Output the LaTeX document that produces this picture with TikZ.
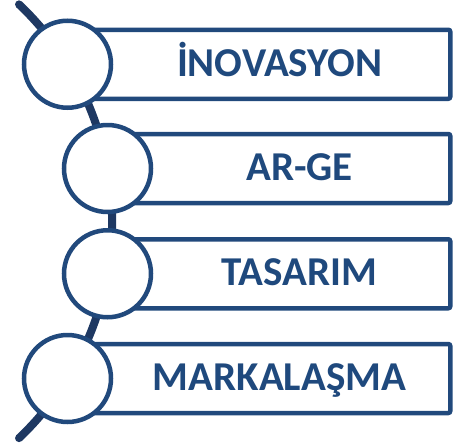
\documentclass[tikz,border=0pt]{standalone}
\usepackage{fontspec}
\setmainfont{Carlito}
\definecolor{boxblue}{RGB}{33,73,124}
\definecolor{spinecol}{RGB}{30,56,98}
\definecolor{txtcol}{RGB}{31,73,125}
\begin{document}
\begin{tikzpicture}[x=1pt,y=-1pt,
  stepbox/.style={draw=boxblue, line width=4.5pt, fill=white, rounded corners=2pt,
    anchor=west, minimum height=69pt, inner sep=0pt},
  ring/.style={circle, draw=boxblue, line width=4.5pt, fill=white, minimum size=87pt, inner sep=0pt},
  label/.style={anchor=base, text=txtcol, font=\fontsize{41}{45}\selectfont\bfseries, inner sep=0pt}]
\useasboundingbox (0,0) rectangle (457,442);
% spine arc
\coordinate (arcc) at (-186.8,221.25);
\draw[spinecol, line width=8pt, line cap=round] (arcc) ++(-46.5:299) arc[start angle=-46.5, end angle=46.5, radius=299];
% boxes
\node[stepbox, minimum width=380.5pt] (b1) at (67.5,64.25) {};
\node[stepbox, minimum width=340.5pt] (b2) at (107.5,168.5) {};
\node[stepbox, minimum width=340.5pt] (b3) at (107.5,273.75) {};
\node[stepbox, minimum width=380.5pt] (b4) at (67.5,378.5) {};
% circles
\node[ring] (c1) at (67.5,64.25) {};
\node[ring] (c2) at (107.5,168.5) {};
\node[ring] (c3) at (107.5,273.75) {};
\node[ring] (c4) at (67.5,378.5) {};
% labels
\node[label] (t1) at (279.5,76.25) {İNOVASYON};
\node[label] (t2) at (299.5,180.5) {AR-GE};
\node[label] (t3) at (299.5,285.75) {TASARIM};
\node[label] (t4) at (279.5,390.5) {MARKALAŞMA};
\end{tikzpicture}
\end{document}
